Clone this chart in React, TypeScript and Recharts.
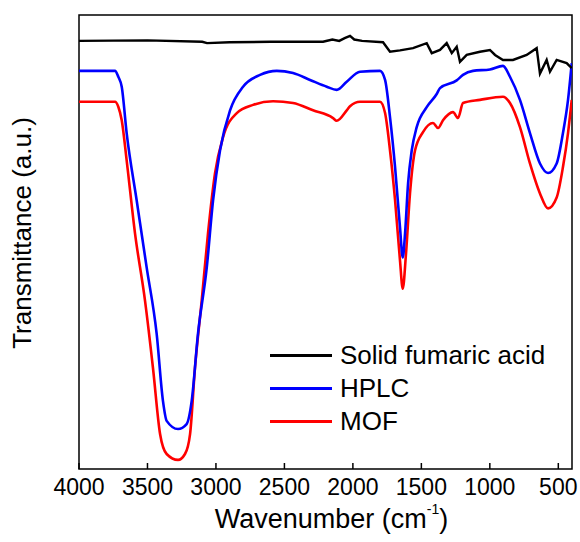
import React from "react";
import { LineChart, Line, XAxis, YAxis, ReferenceArea, Legend } from "recharts";

// ---- data (wavenumber in cm^-1, transmittance in arbitrary units) ----
const solidWn = [4000, 3500, 3100, 3065, 2900, 2600, 2300, 2218, 2150, 2100, 2060, 2021, 1990, 1933, 1780, 1729, 1656, 1561, 1461, 1424, 1364, 1315, 1278, 1242, 1218, 1169, 1072, 999, 962, 904, 831, 731, 658, 634, 585, 561, 512, 439, 402];
const solidT = [94.3, 94.4, 94.1, 93.8, 94.0, 94.1, 94.1, 94.1, 94.6, 94.3, 94.9, 95.4, 94.6, 94.3, 94.0, 91.9, 92.2, 92.7, 93.8, 91.6, 92.3, 93.8, 91.6, 93.0, 89.7, 91.2, 91.9, 92.3, 91.2, 90.1, 90.1, 91.2, 92.7, 87.1, 90.1, 87.5, 90.1, 89.4, 88.3];

const hplcWn = [4000, 3737, 3713, 3688, 3652, 3579, 3506, 3433, 3387, 3360, 3277, 3214, 3177, 3131, 3067, 3021, 2970, 2897, 2802, 2678, 2556, 2437, 2313, 2191, 2118, 2045, 1948, 1802, 1765, 1729, 1692, 1656, 1636, 1619, 1597, 1570, 1534, 1461, 1388, 1364, 1242, 1196, 1123, 999, 904, 853, 780, 707, 634, 575, 512, 466, 429, 402];
const hplcT = [87.7, 87.7, 86.4, 84.2, 74.0, 59.2, 44.4, 29.8, 15.0, 10.6, 8.8, 9.9, 15.0, 29.8, 44.4, 59.2, 70.2, 79.0, 84.2, 86.8, 87.7, 87.2, 85.7, 84.2, 83.5, 85.3, 87.5, 87.7, 85.7, 77.5, 66.5, 53.2, 46.6, 51.9, 62.9, 70.2, 75.3, 79.7, 82.6, 83.9, 85.6, 86.8, 87.7, 88.0, 88.8, 86.4, 81.3, 74.0, 67.3, 65.2, 67.3, 74.0, 81.3, 89.4];

const mofWn = [4000, 3737, 3713, 3688, 3652, 3591, 3518, 3460, 3408, 3360, 3277, 3226, 3189, 3153, 3104, 3058, 3007, 2948, 2848, 2729, 2583, 2437, 2291, 2145, 2118, 2045, 2021, 1948, 1802, 1765, 1729, 1692, 1656, 1636, 1612, 1583, 1546, 1488, 1415, 1378, 1342, 1269, 1232, 1196, 1072, 904, 853, 780, 707, 634, 575, 512, 466, 429, 402];
const mofT = [80.9, 80.9, 79.8, 76.8, 68.0, 51.9, 37.1, 22.3, 7.7, 3.3, 2.0, 3.3, 7.7, 22.3, 37.1, 51.9, 65.1, 73.1, 78.4, 80.2, 81.0, 80.6, 79.0, 77.3, 76.7, 79.0, 79.9, 80.9, 80.9, 78.4, 70.2, 59.2, 45.9, 39.7, 47.5, 60.7, 70.2, 74.2, 76.2, 75.1, 76.8, 78.6, 77.3, 80.6, 81.3, 82.0, 80.6, 75.3, 67.3, 60.7, 57.4, 59.8, 66.5, 74.0, 81.3];

const xTicks = [4000, 3500, 3000, 2500, 2000, 1500, 1000, 500];
const legendOrder = ["Solid fumaric acid", "HPLC", "MOF"];

const toRows = (wn: number[], t: number[]) => wn.map((w, i) => ({ wn: w, t: t[i] }));
const solidData = toRows(solidWn, solidT);
const hplcData = toRows(hplcWn, hplcT);
const mofData = toRows(mofWn, mofT);

const FONT = "'Liberation Sans', Arial, sans-serif";

const XTitle = (props: any) => {
  const vb = props.viewBox || { x: 0, y: 0, width: 0 };
  const cx = vb.x + vb.width / 2 + 6;
  const by = vb.y + 59;
  return (
    <text x={cx} y={by} textAnchor="middle" fontFamily={FONT} fontSize={27} fill="#000">
      <tspan>Wavenumber (cm</tspan>
      <tspan fontSize={14} dy={-14}>-1</tspan>
      <tspan dy={14}>)</tspan>
    </text>
  );
};

const YTitle = (props: any) => {
  const vb = props.viewBox || { x: 0, y: 0, height: 0 };
  const x = vb.x + 31;
  const y = vb.y + vb.height / 2 - 9;
  return (
    <text x={x} y={y} transform={`rotate(-90, ${x}, ${y})`} textAnchor="middle" fontFamily={FONT} fontSize={26} fill="#000">
      Transmittance (a.u.)
    </text>
  );
};

const LegendContent = (props: any) => {
  const payload = [...(props.payload || [])].sort(
    (a: any, b: any) => legendOrder.indexOf(a.value) - legendOrder.indexOf(b.value)
  );
  return (
    <div style={{ fontFamily: FONT, fontSize: 26, color: "#000" }}>
      {payload.map((p: any) => (
        <div key={p.value} style={{ display: "flex", alignItems: "center", height: 33, lineHeight: "33px", whiteSpace: "nowrap" }}>
          <div style={{ width: 62, height: 3, background: p.color, marginRight: 8 }} />
          <span>{p.value}</span>
        </div>
      ))}
    </div>
  );
};

export default function App() {
  return (
    <div style={{ position: "absolute", left: 0, top: 0, background: "#fff" }}>
      <LineChart width={580} height={542} margin={{ top: 15, right: 8, left: 0, bottom: 13 }}>
        <XAxis
          type="number"
          dataKey="wn"
          domain={[400, 4000]}
          reversed
          allowDataOverflow
          ticks={xTicks}
          axisLine={false}
          tickSize={-6}
          tickMargin={16}
          tickLine={{ stroke: "#000", strokeWidth: 1.5 }}
          tick={{ fontSize: 23, fill: "#000", fontFamily: FONT }}
          height={60}
          label={<XTitle />}
        />
        <YAxis
          type="number"
          dataKey="t"
          domain={[0, 100]}
          allowDataOverflow
          tick={false}
          axisLine={false}
          tickLine={false}
          width={79}
          label={<YTitle />}
        />
        <ReferenceArea x1={400} x2={4000} y1={0} y2={100} fill="none" fillOpacity={0} stroke="#000" strokeWidth={1.5} ifOverflow="visible" />
        <Line data={mofData} dataKey="t" name="MOF" stroke="#ff0000" strokeWidth={2.6} dot={false} type="monotone" isAnimationActive={false} />
        <Line data={hplcData} dataKey="t" name="HPLC" stroke="#0000ff" strokeWidth={2.6} dot={false} type="monotone" isAnimationActive={false} />
        <Line data={solidData} dataKey="t" name="Solid fumaric acid" stroke="#000000" strokeWidth={2.4} dot={false} type="linear" isAnimationActive={false} />
        <Legend
          layout="vertical"
          align="center"
          verticalAlign="middle"
          content={<LegendContent />}
          wrapperStyle={{ left: 270, top: 338.5, width: 290, height: 100 }}
        />
      </LineChart>
    </div>
  );
}
